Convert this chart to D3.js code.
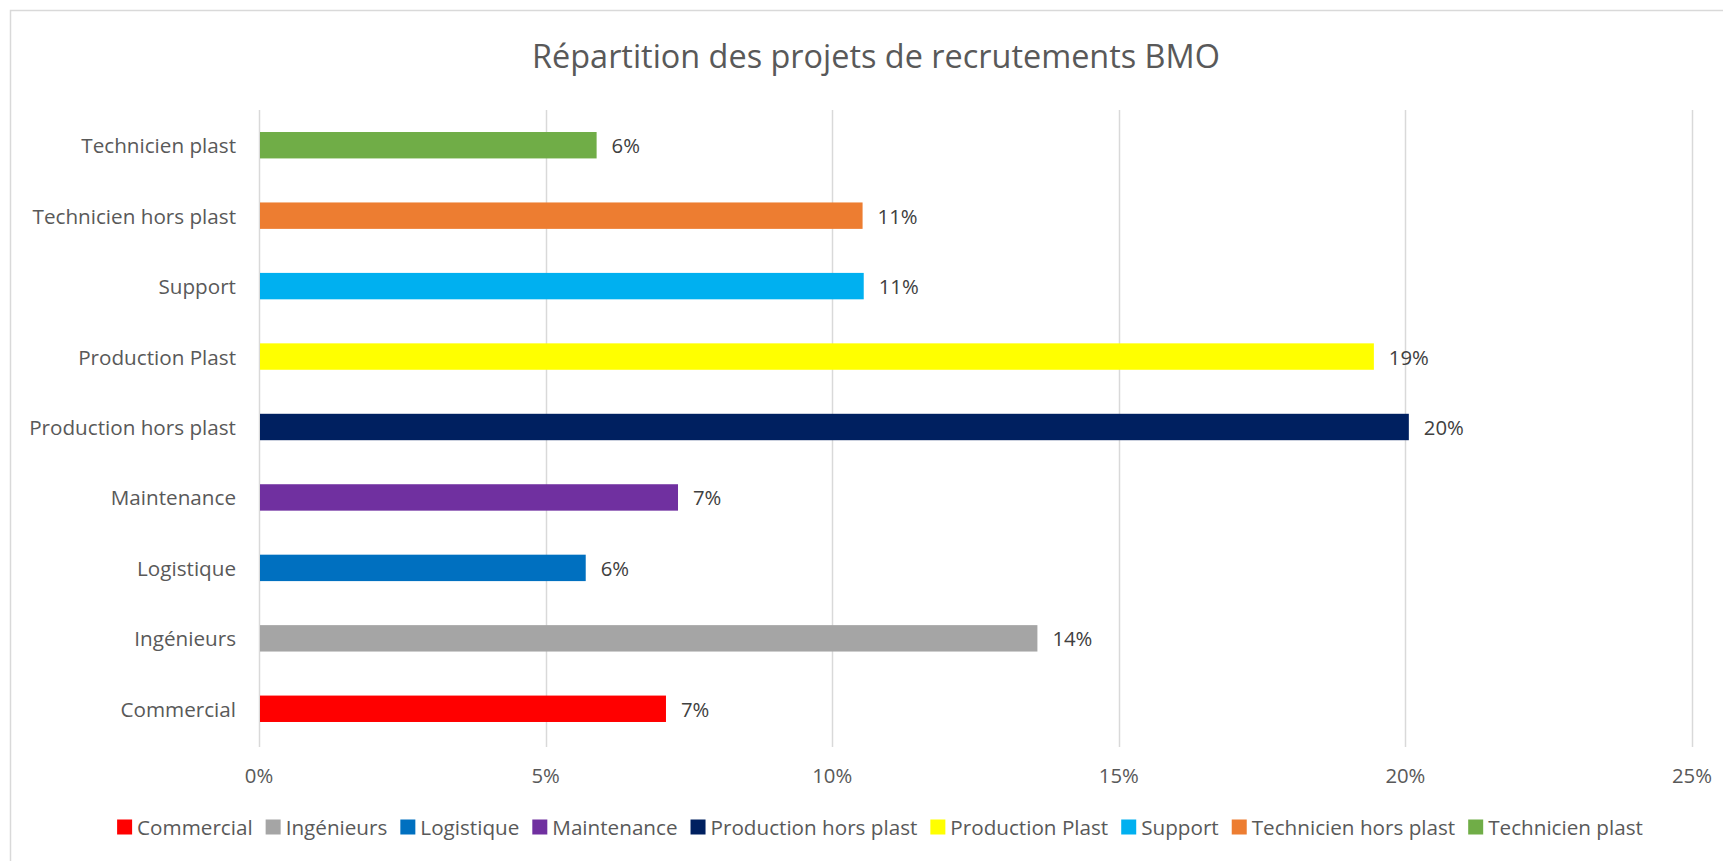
<!DOCTYPE html>
<html>
<head>
<meta charset="utf-8">
<script src="https://cdn.jsdelivr.net/npm/d3@7"></script>
<style>
  html, body { margin: 0; padding: 0; background: #fff; }
  svg { display: block; font-family: "Open Sans", sans-serif; }
</style>
</head>
<body>
<div id="chart"></div>
<script>
// données (de bas en haut)
const categories = ["Commercial", "Ingénieurs", "Logistique", "Maintenance", "Production hors plast",
  "Production Plast", "Support", "Technicien hors plast", "Technicien plast"];
const values = [0.071, 0.1358, 0.057, 0.0731, 0.2006, 0.1945, 0.1055, 0.1053, 0.0589];
const colors = ["#FF0000", "#A5A5A5", "#0070C0", "#7030A0", "#002060",
  "#FFFF00", "#00B0F0", "#ED7D31", "#70AD47"];
const xTicks = [0, 0.05, 0.10, 0.15, 0.20, 0.25];
const title = "Répartition des projets de recrutements BMO";

const width = 1723, height = 861;
const margin = { top: 110, right: 31, bottom: 117, left: 259 };

const svg = d3.select("#chart").append("svg")
  .attr("width", width)
  .attr("height", height);

// cadre du graphique (bords droit et bas hors image)
svg.append("rect")
  .attr("x", 10.5).attr("y", 10.5)
  .attr("width", width + 20).attr("height", height + 20)
  .attr("fill", "#fff")
  .attr("stroke", "#d9d9d9")
  .attr("stroke-width", 1.5);

// ajuste une taille de police pour obtenir une largeur donnee
function fitSize(txt, target) {
  const t = svg.append("text").style("font-size", "100px").text(txt);
  const w = t.node().getComputedTextLength();
  t.remove();
  return 100 * target / w;
}
const catSize = fitSize("Production hors plast", 207);
const tickSize = fitSize("25%", 40);
const titleSize = fitSize(title, 688);

const x = d3.scaleLinear()
  .domain([0, 0.25])
  .range([margin.left, width - margin.right]);

const y = d3.scaleBand()
  .domain(categories.slice().reverse())
  .range([margin.top, height - margin.bottom])
  .paddingInner(0.625)
  .paddingOuter(0.3125);

// grille verticale
svg.append("g")
  .selectAll("line")
  .data(xTicks)
  .join("line")
  .attr("x1", d => Math.round(x(d)) + 0.5)
  .attr("x2", d => Math.round(x(d)) + 0.5)
  .attr("y1", margin.top)
  .attr("y2", 747)
  .attr("stroke", "#d9d9d9")
  .attr("stroke-width", 1.5);

// titre
svg.append("text")
  .attr("x", 876)
  .attr("y", 55)
  .attr("text-anchor", "middle")
  .attr("dominant-baseline", "central")
  .style("font-size", titleSize + "px")
  .attr("fill", "#595959")
  .text(title);

// barres
svg.append("g")
  .selectAll("rect")
  .data(categories)
  .join("rect")
  .attr("x", x(0) + 1)
  .attr("y", d => y(d))
  .attr("width", (d, i) => x(values[i]) - x(0) - 1)
  .attr("height", y.bandwidth())
  .attr("fill", (d, i) => colors[i]);

// etiquettes de valeur
const fmt = d3.format(".0%");
svg.append("g")
  .selectAll("text")
  .data(categories)
  .join("text")
  .attr("x", (d, i) => x(values[i]) + 15)
  .attr("y", d => y(d) + y.bandwidth() / 2)
  .attr("dominant-baseline", "central")
  .style("font-size", tickSize + "px")
  .attr("fill", "#404040")
  .text((d, i) => fmt(values[i]));

// axe des categories
svg.append("g")
  .selectAll("text")
  .data(categories)
  .join("text")
  .attr("x", 236)
  .attr("y", d => y(d) + y.bandwidth() / 2)
  .attr("text-anchor", "end")
  .attr("dominant-baseline", "central")
  .style("font-size", catSize + "px")
  .attr("fill", "#595959")
  .text(d => d);

// axe des valeurs
svg.append("g")
  .selectAll("text")
  .data(xTicks)
  .join("text")
  .attr("x", d => x(d))
  .attr("y", 775)
  .attr("text-anchor", "middle")
  .attr("dominant-baseline", "central")
  .style("font-size", tickSize + "px")
  .attr("fill", "#595959")
  .text(d => fmt(d));

// legende
const legend = svg.append("g");
const sw = 15, gapText = 5, gapItem = 13;
let lx = 0;
categories.forEach((c, i) => {
  const g = legend.append("g");
  g.append("rect")
    .attr("x", 0).attr("y", -sw / 2)
    .attr("width", sw).attr("height", sw)
    .attr("fill", colors[i]);
  const t = g.append("text")
    .attr("x", sw + gapText)
    .attr("y", 0)
    .attr("dominant-baseline", "central")
    .style("font-size", catSize + "px")
    .attr("fill", "#595959")
    .text(c);
  const w = sw + gapText + t.node().getComputedTextLength();
  g.attr("transform", `translate(${lx},0)`);
  lx += w + gapItem;
});
const legendWidth = lx - gapItem;
legend.attr("transform", `translate(${880 - legendWidth / 2},827)`);
</script>
</body>
</html>
